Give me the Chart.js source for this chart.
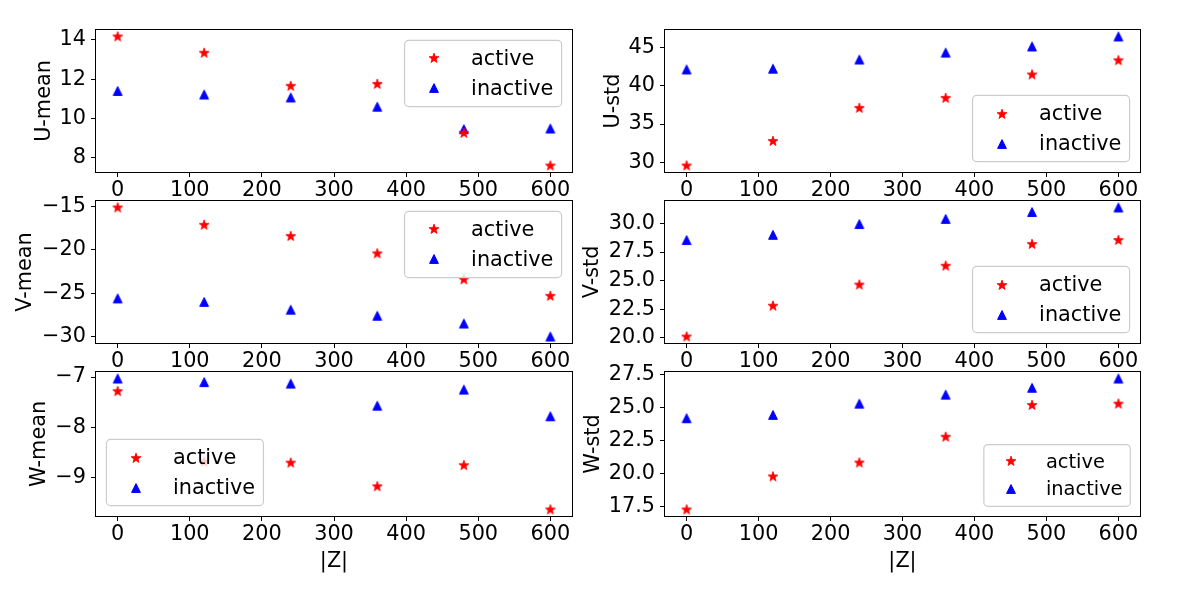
<!DOCTYPE html>
<html>
<head>
<meta charset="utf-8">
<script src="https://cdn.jsdelivr.net/npm/chart.js@4"></script>
<style>
  body { margin: 0; background: #fff; width: 1200px; height: 600px; position: relative; overflow: hidden; }
  canvas { position: absolute; }
</style>
</head>
<body>
<canvas id="uMean"></canvas>
<canvas id="uStd"></canvas>
<canvas id="vMean"></canvas>
<canvas id="vStd"></canvas>
<canvas id="wMean"></canvas>
<canvas id="wStd"></canvas>
<script>
// |Z| positions
const zValues = [0, 120, 240, 360, 480, 600];
const zTicks = [0, 100, 200, 300, 400, 500, 600];

const uMeanActive   = [14.17, 13.34, 11.66, 11.76, 9.27, 7.61];
const uMeanInactive = [11.40, 11.22, 11.07, 10.60, 9.46, 9.49];
const uStdActive    = [29.6, 32.8, 37.1, 38.4, 41.45, 43.3];
const uStdInactive  = [42.1, 42.2, 43.4, 44.3, 45.1, 46.4];
const vMeanActive   = [-15.1, -17.1, -18.4, -20.4, -23.4, -25.3];
const vMeanInactive = [-25.6, -26.0, -26.9, -27.6, -28.5, -30.0];
const vStdActive    = [20.1, 22.8, 24.65, 26.3, 28.2, 28.55];
const vStdInactive  = [28.55, 29.0, 29.95, 30.4, 31.0, 31.4];
const wMeanActive   = [-7.28, -8.68, -8.70, -9.17, -8.75, -9.63];
const wMeanInactive = [-7.03, -7.10, -7.13, -7.57, -7.25, -7.78];
const wStdActive    = [17.3, 19.8, 20.85, 22.8, 25.2, 25.3];
const wStdInactive  = [24.2, 24.45, 25.3, 25.98, 26.5, 27.2];

const uMeanTicks = [8, 10, 12, 14];
const uStdTicks  = [30, 35, 40, 45];
const vMeanTicks = [-30, -25, -20, -15];
const vStdTicks  = [20, 22.5, 25, 27.5, 30];
const wMeanTicks = [-9, -8, -7];
const wStdTicks  = [17.5, 20, 22.5, 25, 27.5];

const FONT = '"DejaVu Sans", sans-serif';
const FS = 20.8;

function makeStar(color) {
  const c = document.createElement('canvas');
  c.width = c.height = 12;
  const g = c.getContext('2d');
  g.translate(6, 6.3);
  g.beginPath();
  for (let i = 0; i < 10; i++) {
    const rad = i % 2 ? 2.1 : 5.2;
    const a = -Math.PI / 2 + i * Math.PI / 5;
    g.lineTo(rad * Math.cos(a), rad * Math.sin(a));
  }
  g.closePath();
  g.fillStyle = color; g.fill();
  g.strokeStyle = color; g.lineWidth = 0.8; g.stroke();
  return c;
}

function makeTriangle(color) {
  const c = document.createElement('canvas');
  c.width = c.height = 12;
  const g = c.getContext('2d');
  g.translate(6, 6);
  g.beginPath();
  g.moveTo(0, -4.4); g.lineTo(-4.4, 4.4); g.lineTo(4.4, 4.4);
  g.closePath();
  g.fillStyle = color; g.fill();
  g.strokeStyle = color; g.lineWidth = 1; g.stroke();
  return c;
}

const starImg = makeStar('#ff0000');
const triImg = makeTriangle('#0000ff');

// full axes frame + matplotlib-like legend inside the axes
const frameAndLegend = {
  id: 'frameAndLegend',
  afterDatasetsDraw(chart, args, opts) {
    const ctx = chart.ctx, a = chart.chartArea;
    ctx.save();
    ctx.strokeStyle = '#000';
    ctx.lineWidth = 1;
    ctx.strokeRect(Math.round(a.left) - 0.5, Math.round(a.top) - 0.5,
                   Math.round(a.right - a.left) + 1, Math.round(a.bottom - a.top) + 1);

    const fs = opts.fontSize;
    ctx.font = fs + 'px ' + FONT;
    const items = chart.data.datasets;
    const textW = Math.max(...items.map(d => ctx.measureText(d.label).width));
    const pad = 0.4 * fs, handle = 2 * fs, gap = 0.8 * fs, spacing = 0.5 * fs, axPad = 0.5 * fs, rowH = 0.94 * fs;
    const w = pad * 2 + handle + gap + textW;
    const h = pad * 2 + rowH * items.length + spacing * (items.length - 1);
    const x = opts.loc.includes('right') ? a.right - axPad - w : a.left + axPad;
    const y = opts.loc.includes('upper') ? a.top + axPad : a.bottom - axPad - h;

    ctx.beginPath();
    ctx.roundRect(x, y, w, h, 0.2 * fs);
    ctx.fillStyle = 'rgba(255,255,255,0.8)';
    ctx.fill();
    ctx.strokeStyle = '#cccccc';
    ctx.lineWidth = 1.2;
    ctx.stroke();

    items.forEach((d, i) => {
      const cy = y + pad + (rowH + spacing) * i + rowH / 2;
      const img = d.pointStyle;
      ctx.drawImage(img, Math.round(x + pad + handle / 2 - img.width / 2), Math.round(cy - img.height / 2));
      ctx.fillStyle = '#000';
      ctx.textBaseline = 'middle';
      ctx.textAlign = 'left';
      ctx.fillText(d.label, x + pad + handle + gap, cy + 1);
    });
    ctx.restore();
  }
};

function paddedRange(arrs) {
  const all = [].concat(...arrs);
  const lo = Math.min(...all), hi = Math.max(...all);
  const m = (hi - lo) * 0.05;
  return [lo - m, hi + m];
}

const cols = [
  { left: 0, width: 580, yw: 96, right: 8 },
  { left: 570, width: 580, yw: 95, right: 10 }
];
const rows = [
  { top: 0, height: 200, padTop: 30, xh: 28 },
  { top: 190, height: 181, padTop: 11, xh: 28 },
  { top: 360, height: 240, padTop: 12, xh: 84 }
];

const panels = [
  { id: 'uMean', title: 'U-mean', active: uMeanActive, inactive: uMeanInactive, ticks: uMeanTicks, col: 0, row: 0, titlePad: 34.6, loc: 'upper right', legendSize: FS },
  { id: 'uStd',  title: 'U-std',  active: uStdActive,  inactive: uStdInactive,  ticks: uStdTicks,  col: 1, row: 0, titlePad: 33.6, loc: 'lower right', legendSize: FS },
  { id: 'vMean', title: 'V-mean', active: vMeanActive, inactive: vMeanInactive, ticks: vMeanTicks, col: 0, row: 1, titlePad: 15.6, loc: 'upper right', legendSize: FS },
  { id: 'vStd',  title: 'V-std',  active: vStdActive,  inactive: vStdInactive,  ticks: vStdTicks,  col: 1, row: 1, titlePad: 12.6, loc: 'lower right', legendSize: FS },
  { id: 'wMean', title: 'W-mean', active: wMeanActive, inactive: wMeanInactive, ticks: wMeanTicks, col: 0, row: 2, titlePad: 29.6, loc: 'lower left',  legendSize: FS },
  { id: 'wStd',  title: 'W-std',  active: wStdActive,  inactive: wStdInactive,  ticks: wStdTicks,  col: 1, row: 2, titlePad: 13.6, loc: 'lower right', legendSize: 19.4 }
];

const xRange = paddedRange([zValues]);

panels.forEach(p => {
  const c = cols[p.col], r = rows[p.row];
  const canvas = document.getElementById(p.id);
  canvas.width = c.width; canvas.height = r.height;
  canvas.style.left = c.left + 'px'; canvas.style.top = r.top + 'px';

  const yRange = paddedRange([p.active, p.inactive]);
  const decimals = p.ticks.some(v => !Number.isInteger(v)) ? 1 : 0;
  const fmt = v => v.toFixed(decimals).replace('-', '\u2212');

  new Chart(canvas, {
    type: 'scatter',
    data: {
      datasets: [
        { label: 'active', data: zValues.map((z, i) => ({ x: z, y: p.active[i] })),
          pointStyle: starImg, backgroundColor: '#ff0000', borderColor: '#ff0000' },
        { label: 'inactive', data: zValues.map((z, i) => ({ x: z, y: p.inactive[i] })),
          pointStyle: triImg, backgroundColor: '#0000ff', borderColor: '#0000ff' }
      ]
    },
    options: {
      responsive: false,
      animation: false,
      devicePixelRatio: 1,
      layout: { padding: { top: r.padTop, right: c.right, left: 0, bottom: 0 } },
      plugins: {
        legend: { display: false },
        tooltip: { enabled: false },
        frameAndLegend: { loc: p.loc, fontSize: p.legendSize }
      },
      scales: {
        x: {
          type: 'linear',
          min: xRange[0], max: xRange[1],
          afterBuildTicks: s => { s.ticks = zTicks.map(v => ({ value: v })); },
          afterFit: s => { s.height = r.xh; s.paddingLeft = 0; s.paddingRight = 0; },
          grid: { display: true, drawOnChartArea: false, drawTicks: true, tickLength: 5, color: '#000', lineWidth: 1 },
          border: { display: false },
          ticks: { color: '#000', font: { size: FS, family: FONT }, padding: 1, maxRotation: 0, autoSkip: false },
          title: { display: p.row === 2, text: '|Z|', color: '#000', font: { size: FS, family: FONT, lineHeight: 1 }, padding: { top: 0, bottom: 28 } }
        },
        y: {
          type: 'linear',
          min: yRange[0], max: yRange[1],
          afterBuildTicks: s => { s.ticks = p.ticks.map(v => ({ value: v })); },
          afterFit: s => { s.width = c.yw; s.paddingTop = 0; s.paddingBottom = 0; },
          grid: { display: true, drawOnChartArea: false, drawTicks: true, tickLength: 5, color: '#000', lineWidth: 1 },
          border: { display: false },
          ticks: { color: '#000', font: { size: FS, family: FONT }, padding: 5, autoSkip: false, callback: v => fmt(v) },
          title: { display: true, text: p.title, color: '#000', font: { size: FS, family: FONT, lineHeight: 1 }, padding: { top: p.titlePad, bottom: 0 } }
        }
      }
    },
    plugins: [frameAndLegend]
  });
});
</script>
</body>
</html>
